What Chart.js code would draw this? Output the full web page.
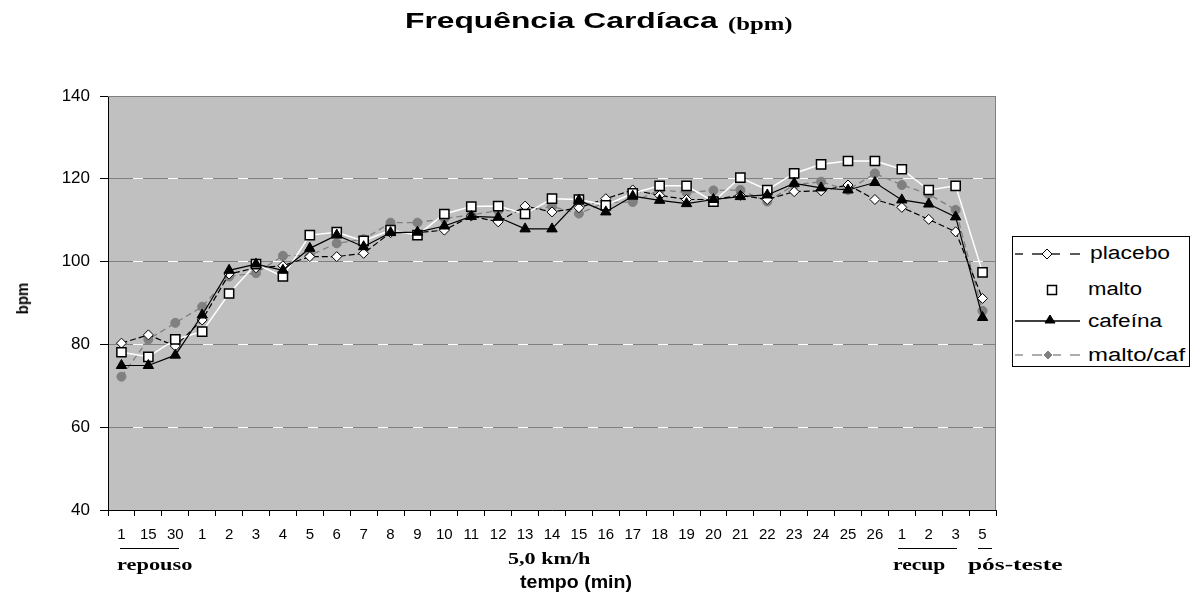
<!DOCTYPE html>
<html><head><meta charset="utf-8">
<script src="https://cdn.jsdelivr.net/npm/chart.js@4/dist/chart.umd.min.js"></script>
<style>
html,body{margin:0;padding:0;background:#fff;}
#wrap{position:relative;width:1190px;height:597px;overflow:hidden;background:#fff;}
canvas{position:absolute;left:0;top:0;}
.t{position:absolute;white-space:nowrap;line-height:1;transform-origin:0 50%;color:#000;}
.sans{font-family:"Liberation Sans",Arial,sans-serif;font-weight:bold;}
.serif{font-family:"Liberation Serif","Times New Roman",serif;font-weight:bold;}
.reg{font-family:"Liberation Sans",Arial,sans-serif;font-weight:normal;font-size:18px;}
.ln{position:absolute;height:0;border-top:1.5px solid #000;}
#legbox{position:absolute;left:1012px;top:236px;width:176px;height:129px;border:1px solid #000;background:#fff;}
#legsvg{position:absolute;left:1012px;top:236px;}
</style></head><body>
<div id="wrap">
<canvas id="c" width="1190" height="597"></canvas>
<div id="legbox"></div>
<svg id="legsvg" width="178" height="131" viewBox="0 0 178 131">
  <g stroke="#000" stroke-width="1.3">
    <line x1="3" y1="18" x2="11" y2="18"/><line x1="20" y1="18" x2="30" y2="18"/>
    <line x1="40" y1="18" x2="48" y2="18"/><line x1="58" y1="18" x2="68" y2="18"/>
  </g>
  <polygon points="35,13 40,18 35,23 30,18" fill="#fff" stroke="#000" stroke-width="1"/>
  <rect x="35.5" y="49.5" width="9" height="9" fill="#fff" stroke="#000" stroke-width="1.5"/>
  <line x1="3" y1="85" x2="68" y2="85" stroke="#000" stroke-width="1.3"/>
  <polygon points="38,79 43,87 33,87" fill="#000" stroke="#000" stroke-width="1"/>
  <g stroke="#808080" stroke-width="1.3">
    <line x1="3" y1="119" x2="11" y2="119"/><line x1="20" y1="119" x2="30" y2="119"/>
    <line x1="41" y1="119" x2="49" y2="119"/><line x1="58" y1="119" x2="68" y2="119"/>
  </g>
  <polygon points="36,115 40,119 36,123 32,119" fill="#808080" stroke="#808080" stroke-width="1"/>
</svg>

<div class="t sans" id="title" style="font-size:22px">Frequência Cardíaca</div>
<div class="t serif" id="unit" style="font-size:19px">(bpm)</div>
<div class="t sans" id="xt" style="font-size:18px">tempo (min)</div>
<div class="t serif" id="km" style="font-size:17px">5,0 km/h</div>
<div class="t serif" id="rep" style="font-size:17px">repouso</div>
<div class="t serif" id="rec" style="font-size:17px">recup</div>
<div class="t serif" id="pos" style="font-size:17px">pós-teste</div>
<div class="t reg" id="l1">placebo</div>
<div class="t reg" id="l2">malto</div>
<div class="t reg" id="l3">cafeína</div>
<div class="t reg" id="l4">malto/caf</div>
<div class="t sans" id="yt" style="font-size:15px;transform-origin:50% 50%;">bpm</div>
<div class="ln" style="left:120px;top:548px;width:59px"></div>
<div class="ln" style="left:898px;top:548px;width:59px"></div>
<div class="ln" style="left:978px;top:548px;width:14px"></div>
</div>
<script>
// ---- data ----
const labels = ['1','15','30','1','2','3','4','5','6','7','8','9','10','11','12','13','14','15','16','17','18','19','20','21','22','23','24','25','26','1','2','3','5'];
const placebo = [80.3, 82.3, 79.6, 85.9, 97, 98.5, 99, 101.2, 101.2, 102, 107, 107, 107.6, 111, 109.6, 113.4, 112, 113, 115.2, 117.3, 116, 115, 115, 116, 115, 116.9, 117.1, 118.5, 115, 113.1, 110.2, 107.2, 91.1];
const malto = [78.1, 77, 81.2, 83.1, 92.3, 99.4, 96.4, 106.4, 107.1, 105, 107.6, 106.4, 111.5, 113.3, 113.4, 111.5, 115.2, 115, 113.6, 116.5, 118.3, 118.3, 114.5, 120.3, 117.3, 121.3, 123.5, 124.3, 124.3, 122.3, 117.3, 118.3, 97.4];
const cafeina = [74.9, 74.9, 77.4, 87.1, 97.9, 99.4, 97.9, 103.2, 106.4, 103.6, 107, 107.1, 108.6, 110.9, 110.7, 107.9, 107.9, 114.8, 112, 115.8, 114.8, 114, 115, 115.7, 116.1, 118.9, 117.8, 117.3, 119.1, 114.9, 113.9, 110.8, 86.5];
const maltocaf = [72.2, 81.2, 85.2, 89.1, 96.4, 97.2, 101.4, 101.5, 104.4, 105.4, 109.4, 109.4, 110.4, 111.3, 112.3, 112.3, 113.3, 111.6, 114.3, 114.4, 117.3, 116.7, 117.2, 117.3, 114.5, 118.5, 119.3, 117.3, 121.3, 118.5, 116.3, 112.5, 88.1];
const yMin = 40, yMax = 140, yStep = 20;

// ---- text placement (fit to width) ----
function place(id, left, top, w){
  const el = document.getElementById(id);
  el.style.left = left + 'px'; el.style.top = top + 'px';
  const nat = el.offsetWidth;
  if (w && nat) el.style.transform = 'scaleX(' + (w / nat) + ')';
}
place('title', 405, 10, 312);
place('unit', 728, 14, 65);
place('xt', 520, 573, 112);
place('km', 508, 550, 82);
place('rep', 117, 556, 75);
place('rec', 893, 556, 52);
place('pos', 968, 556, 94);
place('l1', 1090, 244, 80);
place('l2', 1088, 280, 54);
place('l3', 1088, 311.5, 74);
place('l4', 1088, 345.5, 97);
(function(){
  const el = document.getElementById('yt');
  const w = el.offsetWidth, h = el.offsetHeight;
  el.style.left = (22 - w/2) + 'px'; el.style.top = (298 - h/2) + 'px';
  el.style.transform = 'scaleX(1.15) rotate(-90deg)';
})();

// ---- chart ----
const plotBg = {
  id: 'plotBg',
  beforeDraw(chart){
    const {ctx, chartArea:a} = chart;
    ctx.save(); ctx.fillStyle = '#c0c0c0';
    ctx.fillRect(a.left, a.top, a.right - a.left, a.bottom - a.top);
    ctx.restore();
  },
  beforeDatasetsDraw(chart){
    const {ctx, chartArea:a, scales:{y}} = chart;
    ctx.save();
    ctx.strokeStyle = '#ffffff'; ctx.lineWidth = 1;
    ctx.setLineDash([10, 25]); ctx.lineDashOffset = 10;
    y.ticks.forEach(t => {
      if (t.value > y.min && t.value < y.max){
        const py = Math.round(y.getPixelForValue(t.value) - 0.5) + 0.5;
        ctx.beginPath(); ctx.moveTo(a.left, py); ctx.lineTo(a.right, py); ctx.stroke();
      }
    });
    ctx.setLineDash([]); ctx.strokeStyle = '#808080';
    ctx.beginPath();
    ctx.moveTo(a.left, Math.round(a.top) + 0.5);
    ctx.lineTo(Math.round(a.right) - 0.5, Math.round(a.top) + 0.5);
    ctx.lineTo(Math.round(a.right) - 0.5, a.bottom);
    ctx.stroke();
    ctx.restore();
  }
};

new Chart(document.getElementById('c'), {
  type: 'line',
  data: {
    labels: labels,
    datasets: [
      {label:'cafeína', data:cafeina, borderColor:'#000', borderWidth:1.2, pointStyle:'triangle', pointRadius:6,
       pointBackgroundColor:'#000', pointBorderColor:'#000', pointBorderWidth:1, order:0},
      {label:'malto', data:malto, borderColor:'#fff', borderWidth:1.5, pointStyle:'rect', pointRadius:6.5,
       pointBackgroundColor:'#fff', pointBorderColor:'#000', pointBorderWidth:1.5, order:1},
      {label:'placebo', data:placebo, borderColor:'#000', borderWidth:1.2, borderDash:[6,3], pointStyle:'rectRot', pointRadius:5,
       pointBackgroundColor:'#fff', pointBorderColor:'#000', pointBorderWidth:1, order:2},
      {label:'malto/caf', data:maltocaf, borderColor:'#808080', borderWidth:1.3, borderDash:[6,4], pointStyle:'circle', pointRadius:4.5,
       pointBackgroundColor:'#808080', pointBorderColor:'#808080', pointBorderWidth:1, order:3}
    ]
  },
  options: {
    responsive: false, animation: false, devicePixelRatio: 1, events: [],
    layout: { padding: { top: 96, right: 194, bottom: 0, left: 0 } },
    plugins: { legend: { display: false }, title: { display: false }, tooltip: { enabled: false } },
    elements: { line: { tension: 0 } },
    scales: {
      x: {
        type: 'category', offset: true,
        grid: { offset: true, drawOnChartArea: false, tickLength: 6, color: '#000' },
        border: { color: '#000' },
        ticks: { autoSkip: false, maxRotation: 0, minRotation: 0, padding: 10, color: '#000',
                 font: { family: '"Liberation Sans", Arial, sans-serif', size: 15 } },
        afterFit(s){ s.height = 87; }
      },
      y: {
        min: yMin, max: yMax,
        ticks: { stepSize: yStep, padding: 10, color: '#000',
                 font: { family: '"Liberation Sans", Arial, sans-serif', size: 17 } },
        grid: { color: '#808080', tickLength: 8, tickColor: '#000' },
        border: { color: '#000' },
        afterFit(s){ s.width = 108; }
      }
    }
  },
  plugins: [plotBg]
});
</script>
</body></html>
